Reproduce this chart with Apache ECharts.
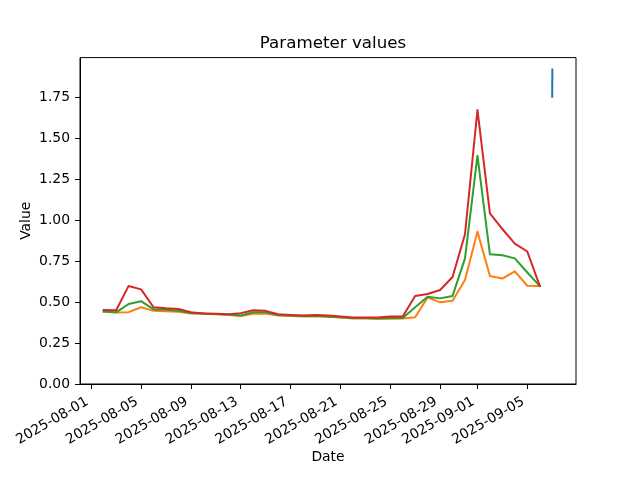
<!DOCTYPE html>
<html>
<head>
<meta charset="utf-8">
<script src="https://cdn.jsdelivr.net/npm/echarts@6/dist/echarts.min.js"></script>
<style>html,body{margin:0;padding:0;background:#fff}#c{width:640px;height:480px}</style>
</head>
<body>
<div id="c"></div>
<script>
const dates = ['2025-08-02','2025-08-03','2025-08-04','2025-08-05','2025-08-06','2025-08-07','2025-08-08','2025-08-09','2025-08-10','2025-08-11','2025-08-12','2025-08-13','2025-08-14','2025-08-15','2025-08-16','2025-08-17','2025-08-18','2025-08-19','2025-08-20','2025-08-21','2025-08-22','2025-08-23','2025-08-24','2025-08-25','2025-08-26','2025-08-27','2025-08-28','2025-08-29','2025-08-30','2025-08-31','2025-09-01','2025-09-02','2025-09-03','2025-09-04','2025-09-05','2025-09-06'];
const orangeValues = [0.441,0.436,0.438,0.468,0.446,0.444,0.440,0.430,0.428,0.425,0.420,0.415,0.428,0.430,0.418,0.415,0.412,0.413,0.410,0.405,0.400,0.400,0.398,0.398,0.400,0.407,0.528,0.498,0.508,0.634,0.929,0.659,0.643,0.687,0.599,0.598];
const greenValues = [0.441,0.437,0.488,0.505,0.455,0.452,0.447,0.433,0.430,0.427,0.423,0.418,0.438,0.437,0.420,0.417,0.414,0.416,0.412,0.407,0.402,0.402,0.400,0.402,0.403,0.468,0.532,0.522,0.537,0.766,1.392,0.791,0.785,0.766,0.680,0.598];
const redValues = [0.451,0.450,0.598,0.577,0.468,0.462,0.458,0.437,0.430,0.428,0.426,0.432,0.450,0.446,0.426,0.421,0.417,0.421,0.417,0.411,0.406,0.406,0.405,0.412,0.412,0.537,0.549,0.573,0.652,0.913,1.671,1.040,0.945,0.856,0.808,0.598];
const blueTimes = ['2025-09-07 00:00','2025-09-07 00:15'];
const blueValues = [1.752, 1.918];
const xTickLabels = ['2025-08-01','2025-08-05','2025-08-09','2025-08-13','2025-08-17','2025-08-21','2025-08-25','2025-08-29','2025-09-01','2025-09-05'];
const yTickValues = [0,0.25,0.5,0.75,1.0,1.25,1.5,1.75];

function ts(s){
  const parts = s.split(' ');
  const d = parts[0].split('-').map(Number);
  let h = 0, mi = 0;
  if (parts[1]) { const t = parts[1].split(':').map(Number); h = t[0]; mi = t[1]; }
  return Date.UTC(d[0], d[1]-1, d[2], h, mi);
}
const xTickValues = xTickLabels.map(ts);
function pairs(xs, ys){ return xs.map((x,i)=>[ts(x), ys[i]]); }

const FONT = 'DejaVu Sans';
const chart = echarts.init(document.getElementById('c'), null, {renderer:'canvas'});
const lineS = (name, color, data) => ({
  name, type:'line', data, showSymbol:false, symbol:'none', animation:false,
  lineStyle:{color, width:2, cap:'square', join:'round'}, itemStyle:{color}
});
chart.setOption({
  animation:false,
  backgroundColor:'#fff',
  title:{text:'Parameter values', left:328, top:30, textAlign:'center',
    textStyle:{fontFamily:FONT, fontSize:16.7, fontWeight:'normal', color:'#000'}},
  grid:{left:80, right:64, top:57.6, bottom:96, show:true, borderColor:'#000', borderWidth:1, backgroundColor:'transparent'},
  xAxis:{
    type:'value', min:ts('2025-07-31 02:20'), max:ts('2025-09-08 21:50'),
    name:'Date', nameLocation:'middle', nameGap:66, nameMoveOverlap:false,
    nameTextStyle:{fontFamily:FONT, fontSize:13.9, color:'#000'},
    axisLine:{show:true, onZero:false, lineStyle:{color:'#000', width:1}},
    axisTick:{show:true, inside:false, length:5, lineStyle:{color:'#000'}, customValues:xTickValues},
    axisLabel:{show:true, rotate:30, margin:14.5, padding:[0,4.6,0,0], customValues:xTickValues,
      fontFamily:FONT, fontSize:13.9, color:'#000',
      formatter:function(v){ const i = xTickValues.indexOf(v); return i>=0 ? xTickLabels[i] : ''; }},
    splitLine:{show:false}
  },
  yAxis:{
    type:'value', min:0, max:1.99,
    name:'Value', nameLocation:'middle', nameGap:47, nameRotate:90, nameMoveOverlap:false,
    nameTextStyle:{fontFamily:FONT, fontSize:13.9, color:'#000'},
    axisLine:{show:true, lineStyle:{color:'#000', width:1}},
    axisTick:{show:true, inside:false, length:5, lineStyle:{color:'#000'}, customValues:yTickValues},
    axisLabel:{show:true, margin:10, customValues:yTickValues, fontFamily:FONT, fontSize:13.9, color:'#000',
      formatter:function(v){ return v.toFixed(2); }},
    splitLine:{show:false}
  },
  series:[
    lineS('blue', '#1f77b4', pairs(blueTimes, blueValues)),
    lineS('orange', '#ff7f0e', pairs(dates, orangeValues)),
    lineS('green', '#2ca02c', pairs(dates, greenValues)),
    lineS('red', '#d62728', pairs(dates, redValues))
  ]
});
</script>
</body>
</html>
